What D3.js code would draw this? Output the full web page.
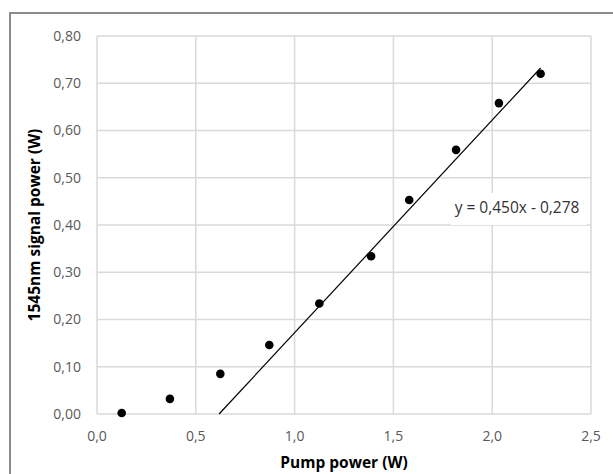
<!DOCTYPE html>
<html>
<head>
<meta charset="utf-8">
<script src="https://cdn.jsdelivr.net/npm/d3@7"></script>
<style>
  html, body { margin: 0; padding: 0; background: #fff; }
  svg { display: block; font-family: "Open Sans", "Noto Sans", sans-serif; }
</style>
</head>
<body>
<div id="chart"></div>
<script>
// Pump power vs 1545nm signal power, with linear trendline

const pumpPower = [0.125, 0.369, 0.624, 0.872, 1.125, 1.387, 1.580, 1.817, 2.034, 2.245];
const signalPower = [0.002, 0.032, 0.085, 0.146, 0.234, 0.334, 0.453, 0.559, 0.658, 0.720];
const xTicks = [0, 0.5, 1.0, 1.5, 2.0, 2.5];
const yTicks = [0, 0.1, 0.2, 0.3, 0.4, 0.5, 0.6, 0.7, 0.8];
const trendSlope = 0.450;
const trendIntercept = -0.278;
const trendLabel = "y = 0,450x - 0,278";

const W = 613, H = 474;
const margin = { top: 36, right: 22, bottom: 60, left: 97 };

const svg = d3.select("#chart").append("svg")
  .attr("width", W)
  .attr("height", H);

// outer frame (only top and left edges visible in the crop)
svg.append("path")
  .attr("d", `M10,${H} V13 H${W}`)
  .attr("fill", "none")
  .attr("stroke", "#8c8c8c")
  .attr("stroke-width", 2);

const x = d3.scaleLinear().domain([0, 2.5]).range([margin.left, W - margin.right]);
const y = d3.scaleLinear().domain([0, 0.8]).range([H - margin.bottom, margin.top]);

const fmtX = (d) => d3.format(".1f")(d).replace(".", ",");
const fmtY = (d) => d3.format(".2f")(d).replace(".", ",");

// gridlines
svg.append("g")
  .selectAll("line")
  .data(yTicks)
  .join("line")
  .attr("x1", x(0)).attr("x2", x(2.5))
  .attr("y1", (d) => y(d)).attr("y2", (d) => y(d))
  .attr("stroke", "#d9d9d9")
  .attr("stroke-width", 1.5);

svg.append("g")
  .selectAll("line")
  .data(xTicks)
  .join("line")
  .attr("x1", (d) => x(d)).attr("x2", (d) => x(d))
  .attr("y1", y(0)).attr("y2", y(0.8))
  .attr("stroke", "#d9d9d9")
  .attr("stroke-width", 1.5);

// tick labels
svg.append("g")
  .selectAll("text")
  .data(yTicks)
  .join("text")
  .attr("x", x(0) - 16)
  .attr("y", (d) => y(d))
  .attr("dy", "0.35em")
  .attr("text-anchor", "end")
  .attr("fill", "#595959")
  .style("font-size", "14px")
  .text(fmtY);

svg.append("g")
  .selectAll("text")
  .data(xTicks)
  .join("text")
  .attr("x", (d) => x(d))
  .attr("y", y(0) + 22)
  .attr("dy", "0.35em")
  .attr("text-anchor", "middle")
  .attr("fill", "#595959")
  .style("font-size", "14px")
  .text(fmtX);

// trendline, clipped to y >= 0 like the spreadsheet does
const xStart = Math.max(d3.min(pumpPower), -trendIntercept / trendSlope);
const xEnd = d3.max(pumpPower);
svg.append("line")
  .attr("x1", x(xStart))
  .attr("y1", y(trendSlope * xStart + trendIntercept))
  .attr("x2", x(xEnd))
  .attr("y2", y(trendSlope * xEnd + trendIntercept))
  .attr("stroke", "#000")
  .attr("stroke-width", 1.2);

// points
svg.append("g")
  .selectAll("circle")
  .data(pumpPower)
  .join("circle")
  .attr("cx", (d) => x(d))
  .attr("cy", (d, i) => y(signalPower[i]))
  .attr("r", 4.3)
  .attr("fill", "#000");

// trendline equation label with white box
const lbl = svg.append("g").attr("transform", `translate(${x(1.81)},${y(0.436)})`);
lbl.append("rect")
  .attr("x", -4).attr("y", -15)
  .attr("width", 136).attr("height", 32)
  .attr("fill", "#fff");
lbl.append("text")
  .attr("x", 0)
  .attr("y", 0)
  .attr("dy", "0.35em")
  .attr("fill", "#333")
  .style("font-size", "15.5px")
  .text(trendLabel);

// axis titles
svg.append("text")
  .attr("x", (x(0) + x(2.5)) / 2)
  .attr("y", 463)
  .attr("dy", "0.35em")
  .attr("text-anchor", "middle")
  .attr("fill", "#000")
  .style("font-size", "15.5px")
  .style("font-weight", "bold")
  .text("Pump power (W)");

svg.append("text")
  .attr("transform", `translate(35,${(y(0) + y(0.8)) / 2}) rotate(-90)`)
  .attr("dy", "0.35em")
  .attr("text-anchor", "middle")
  .attr("fill", "#000")
  .style("font-size", "15.5px")
  .style("font-weight", "bold")
  .text("1545nm signal power (W)");
</script>
</body>
</html>
